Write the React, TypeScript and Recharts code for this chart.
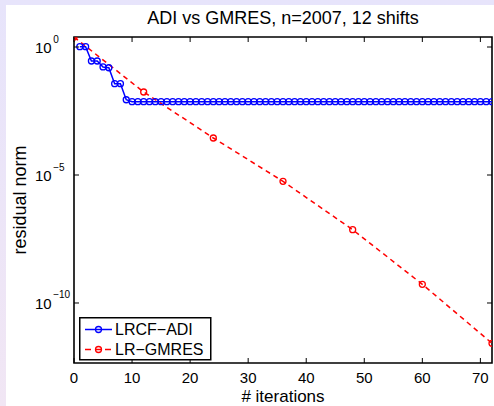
import React from 'react';
import { LineChart, Line, XAxis, YAxis, ReferenceArea, Legend } from 'recharts';

// ---- data ----
const adiIterations = [
  1, 2, 3, 4, 5, 6, 7, 8, 9, 10, 11, 12, 13, 14, 15, 16, 17, 18, 19, 20, 21, 22, 23, 24,
  25, 26, 27, 28, 29, 30, 31, 32, 33, 34, 35, 36, 37, 38, 39, 40, 41, 42, 43, 44, 45, 46, 47, 48,
  49, 50, 51, 52, 53, 54, 55, 56, 57, 58, 59, 60, 61, 62, 63, 64, 65, 66, 67, 68, 69, 70, 71, 72,
];
const adiResidual = [
  1.03, 1.03, 0.284, 0.284, 0.166, 0.155, 0.0368, 0.0368, 0.0087, 0.0073, 0.0073, 0.0073,
  0.0073, 0.0073, 0.0073, 0.0073, 0.0073, 0.0073, 0.0073, 0.0073, 0.0073, 0.0073, 0.0073, 0.0073,
  0.0073, 0.0073, 0.0073, 0.0073, 0.0073, 0.0073, 0.0073, 0.0073, 0.0073, 0.0073, 0.0073, 0.0073,
  0.0073, 0.0073, 0.0073, 0.0073, 0.0073, 0.0073, 0.0073, 0.0073, 0.0073, 0.0073, 0.0073, 0.0073,
  0.0073, 0.0073, 0.0073, 0.0073, 0.0073, 0.0073, 0.0073, 0.0073, 0.0073, 0.0073, 0.0073, 0.0073,
  0.0073, 0.0073, 0.0073, 0.0073, 0.0073, 0.0073, 0.0073, 0.0073, 0.0073, 0.0073, 0.0073, 0.0073,
];
const gmresIterations = [0, 12, 24, 36, 48, 60, 72];
const gmresResidual = [2.459, 0.01746, 2.79e-4, 5.67e-6, 7.3e-8, 5.37e-10, 2.67e-12];

const xTicks = [0, 10, 20, 30, 40, 50, 60, 70];
const yTicks = [1e-10, 1e-5, 1];
const xDomain = [0, 72];
const yDomain = [4.53e-13, 2.459];

const titleText = 'ADI vs GMRES, n=2007, 12 shifts';
const xLabelText = '# iterations';
const yLabelText = 'residual norm';
const adiName = 'LRCF\u2212ADI';
const gmresName = 'LR\u2212GMRES';

const adiData = adiIterations.map((x, i) => ({ x, y: adiResidual[i] }));
const gmresData = gmresIterations.map((x, i) => ({ x, y: gmresResidual[i] }));

// ---- layout ----
const W = 494;
const H = 406;
const PLOT_LEFT = 74;
const PLOT_TOP = 37;
const PLOT_RIGHT = 492;
const PLOT_BOTTOM = 363;
const PLOT_W = PLOT_RIGHT - PLOT_LEFT;
const PLOT_H = PLOT_BOTTOM - PLOT_TOP;
const FONT = 'Liberation Sans, Arial, Helvetica, sans-serif';
const BLUE = '#0000ff';
const RED = '#ff0000';

const XTick = (props: any) => {
  const { x, y, payload } = props;
  return (
    <g>
      <line x1={x} y1={y} x2={x} y2={y - 5} stroke="#000" strokeWidth={1} />
      <line x1={x} y1={y - PLOT_H} x2={x} y2={y - PLOT_H + 5} stroke="#000" strokeWidth={1} />
      <text x={x} y={y + 19.5} textAnchor="middle" fontSize={15} fontFamily={FONT} fill="#000">
        {payload.value}
      </text>
    </g>
  );
};

const YTick = (props: any) => {
  const { x, y, payload } = props;
  const exp = Math.round(Math.log10(payload.value));
  const expStr = exp < 0 ? '\u2212' + Math.abs(exp) : String(exp);
  return (
    <g>
      <line x1={x} y1={y} x2={x + 5} y2={y} stroke="#000" strokeWidth={1} />
      <line x1={x + PLOT_W} y1={y} x2={x + PLOT_W - 5} y2={y} stroke="#000" strokeWidth={1} />
      <text x={x - 39} y={y + 6} fontSize={15} fontFamily={FONT} fill="#000">
        10
        <tspan dx={1.5} dy={-10.5} fontSize={10}>
          {expStr}
        </tspan>
      </text>
    </g>
  );
};

const TitleLabel = () => (
  <text x={(PLOT_LEFT + PLOT_RIGHT) / 2} y={23.5} textAnchor="middle" fontSize={18} fontFamily={FONT} fill="#000">
    {titleText}
  </text>
);

const XLabel = () => (
  <text x={(PLOT_LEFT + PLOT_RIGHT) / 2} y={401.5} textAnchor="middle" fontSize={17} fontFamily={FONT} fill="#000">
    {xLabelText}
  </text>
);

const YLabel = () => {
  const cx = 26;
  const cy = (PLOT_TOP + PLOT_BOTTOM) / 2;
  return (
    <text
      x={cx}
      y={cy}
      textAnchor="middle"
      transform={`rotate(-90, ${cx}, ${cy})`}
      fontSize={18}
      fontFamily={FONT}
      fill="#000"
    >
      {yLabelText}
    </text>
  );
};

const LegendContent = (props: any) => {
  const { payload } = props;
  const items = payload || [];
  return (
    <svg width={133} height={44} style={{ display: 'block' }}>
      <rect x={0.75} y={0.75} width={131} height={42} fill="#fff" stroke="#000" strokeWidth={1.5} />
      {items.map((entry: any, i: number) => {
        const cy = 12.5 + i * 20;
        const dashed = entry.value === gmresName;
        return (
          <g key={entry.value}>
            <line
              x1={6}
              y1={cy}
              x2={33}
              y2={cy}
              stroke={entry.color}
              strokeWidth={1.5}
              strokeDasharray={dashed ? '6 4' : undefined}
            />
            <circle cx={19.5} cy={cy} r={3} fill="none" stroke={entry.color} strokeWidth={1.3} />
            <text x={36} y={cy + 5.3} fontSize={16} fontFamily={FONT} fill="#000">
              {entry.value}
            </text>
          </g>
        );
      })}
    </svg>
  );
};

export default function App() {
  return (
    <div
      style={{
        position: 'absolute',
        left: 0,
        top: 0,
        width: W,
        height: H,
        background: 'linear-gradient(to bottom, #e7e4fb, #f1e6f4)',
        overflow: 'hidden',
      }}
    >
      <div style={{ position: 'absolute', left: 6, top: 5, width: W - 6, height: H - 5, background: '#fff' }} />
      <div style={{ position: 'absolute', left: 0, top: 0 }}>
        <LineChart
          width={W}
          height={H}
          margin={{ top: PLOT_TOP, right: W - PLOT_RIGHT, bottom: 0, left: 0 }}
        >
          <XAxis
            dataKey="x"
            type="number"
            domain={xDomain}
            ticks={xTicks}
            allowDataOverflow
            height={H - PLOT_BOTTOM}
            tickSize={0}
            tickMargin={0}
            tickLine={false}
            axisLine={false}
            tick={<XTick />}
            interval={0}
            label={{ content: () => <XLabel /> }}
          />
          <YAxis
            dataKey="y"
            type="number"
            scale="log"
            domain={yDomain}
            ticks={yTicks}
            allowDataOverflow
            width={PLOT_LEFT}
            tickSize={0}
            tickMargin={0}
            tickLine={false}
            axisLine={false}
            tick={<YTick />}
            interval={0}
            label={{ content: () => <YLabel /> }}
          />
          <ReferenceArea
            x1={xDomain[0]}
            x2={xDomain[1]}
            y1={yDomain[0]}
            y2={yDomain[1]}
            fill="none"
            fillOpacity={0}
            stroke="#000"
            strokeWidth={1.6}
            ifOverflow="visible"
            label={{ content: () => <TitleLabel /> }}
          />
          <Line
            data={adiData}
            dataKey="y"
            name={adiName}
            type="linear"
            stroke={BLUE}
            strokeWidth={1.5}
            dot={{ r: 3, fill: 'none', stroke: BLUE, strokeWidth: 1.3 }}
            activeDot={false}
            isAnimationActive={false}
          />
          <Line
            data={gmresData}
            dataKey="y"
            name={gmresName}
            type="linear"
            stroke={RED}
            strokeWidth={1.5}
            strokeDasharray="5 4"
            dot={{ r: 3, fill: 'none', stroke: RED, strokeWidth: 1.3, strokeDasharray: 'none' }}
            activeDot={false}
            isAnimationActive={false}
          />
          <Legend
            layout="horizontal"
            verticalAlign="middle"
            align="center"
            content={<LegendContent />}
            wrapperStyle={{ position: 'absolute', left: 79, top: 317, width: 133, height: 44 }}
          />
        </LineChart>
      </div>
    </div>
  );
}
